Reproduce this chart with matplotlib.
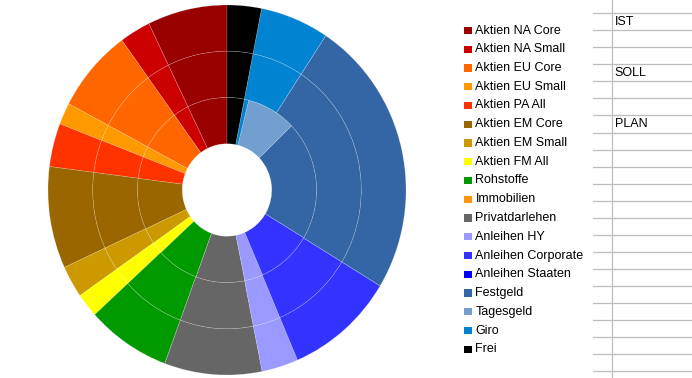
import matplotlib
matplotlib.use("Agg")
import matplotlib.pyplot as plt
from matplotlib.patches import Rectangle
from matplotlib.lines import Line2D

plt.rcParams['font.family'] = ['Liberation Sans', 'DejaVu Sans']

categories = ['Aktien NA Core', 'Aktien NA Small', 'Aktien EU Core', 'Aktien EU Small',
              'Aktien PA All', 'Aktien EM Core', 'Aktien EM Small', 'Aktien FM All',
              'Rohstoffe', 'Immobilien', 'Privatdarlehen', 'Anleihen HY',
              'Anleihen Corporate', 'Anleihen Staaten', 'Festgeld', 'Tagesgeld',
              'Giro', 'Frei']
colors = ['#990000', '#cc0000', '#ff6600', '#ff9900', '#ff3300', '#996600', '#cc9900',
          '#ffff00', '#009900', '#ff950e', '#666666', '#9999ff', '#3333ff', '#0000ff',
          '#3465a4', '#729fcf', '#0084d1', '#000000']

# shares in percent
ist = [7.2, 2.8, 7.3, 1.9, 3.8, 8.9, 2.8, 2.1, 7.6, 0, 8.8, 3.3, 9.9, 0, 20.8, 8.9, 0.8, 3.1]
soll = [7.2, 2.8, 7.3, 1.9, 3.8, 8.9, 2.8, 2.1, 7.6, 0, 8.8, 3.3, 9.9, 0, 24.4, 0, 6.2, 3.1]
plan = [7.2, 2.8, 7.3, 1.9, 3.8, 8.9, 2.8, 2.1, 7.6, 0, 8.8, 3.3, 9.9, 0, 24.4, 0, 6.2, 3.1]

sheet_labels = {0: 'IST', 3: 'SOLL', 6: 'PLAN'}

W, H = 692, 378
fig = plt.figure(figsize=(W / 100, H / 100), dpi=100)


def fx(px):
    return px / W


def fy(py):
    return 1 - py / H


# donut: inner ring = IST, then SOLL, outer = PLAN
ax = fig.add_axes([fx(48), 3 / H, 358 / W, 370 / H])
edge = dict(width=0.25, edgecolor=(1, 1, 1, 0.22), linewidth=0.5)
for radius, vals in [(1.0, plan), (0.75, soll), (0.5, ist)]:
    ax.pie(vals, colors=colors, radius=radius, startangle=90, counterclock=True,
           wedgeprops=edge)
ax.set_aspect('auto')
ax.set_xlim(-1, 1)
ax.set_ylim(-1, 1)
ax.axis('off')

# legend
y0, dy = 30.5, 18.75
for i, (name, col) in enumerate(zip(categories, colors)):
    yc = y0 + i * dy
    fig.add_artist(Rectangle((fx(464.3), fy(yc + 3.7)), 7.4 / W, 7.4 / H,
                             transform=fig.transFigure, facecolor=col, edgecolor='none'))
    fig.text(fx(475.5), fy(yc), name, fontsize=9, va='center', ha='left', color='black')

# spreadsheet cells on the right
fig.add_artist(Line2D([fx(612.3), fx(612.3)], [0, 1], transform=fig.transFigure,
                      color='#bdbdbd', lw=0.9))
row0, row_h = 13.3, 17.03
for k in range(22):
    yy = row0 + k * row_h
    fig.add_artist(Line2D([fx(593), 1], [fy(yy), fy(yy)], transform=fig.transFigure,
                          color='#bdbdbd', lw=0.9))
for k, txt in sheet_labels.items():
    fig.text(fx(614.5), fy(row0 + (k + 0.5) * row_h), txt, fontsize=9,
             va='center', ha='left', color='black')

fig.savefig('out.png', dpi=100)
